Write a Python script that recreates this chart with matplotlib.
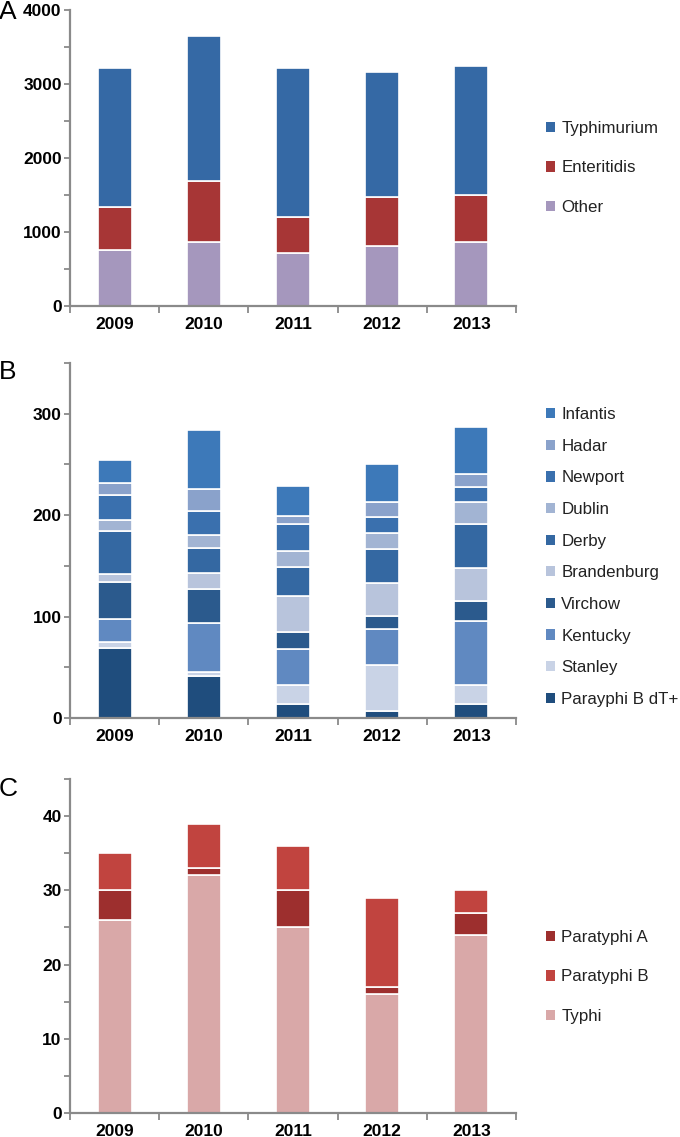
import numpy as np
import matplotlib
matplotlib.use('Agg')
import matplotlib.pyplot as plt
from matplotlib.patches import Patch
from matplotlib.ticker import MultipleLocator

plt.rcParams['font.family'] = ['Liberation Sans', 'DejaVu Sans']

years = ['2009', '2010', '2011', '2012', '2013']

# Panel A (stack order bottom -> top)
a_series = ['Other', 'Enteritidis', 'Typhimurium']
a_other = [760, 870, 720, 810, 870]
a_enteritidis = [580, 820, 480, 660, 630]
a_typhimurium = [1870, 1960, 2020, 1690, 1740]
a_colors = ['#a597bd', '#a73636', '#3569a5']

# Panel B (stack order bottom -> top)
b_series = ['Parayphi B dT+', 'Stanley', 'Kentucky', 'Virchow', 'Brandenburg',
            'Derby', 'Dublin', 'Newport', 'Hadar', 'Infantis']
b_parab = [69, 41, 14, 7, 14]
b_stanley = [6, 4, 19, 45, 19]
b_kentucky = [23, 49, 35, 36, 63]
b_virchow = [36, 33, 17, 13, 19]
b_brandenburg = [8, 16, 35, 32, 33]
b_derby = [42, 25, 29, 34, 43]
b_dublin = [11, 12, 16, 15, 22]
b_newport = [25, 24, 26, 16, 15]
b_hadar = [12, 22, 8, 15, 13]
b_infantis = [22, 58, 30, 37, 46]
b_colors = ['#1f4d7d', '#c9d3e6', '#6089c1', '#2b5a8d', '#b8c4dc',
            '#3468a2', '#a2b4d3', '#3a70ae', '#8aa2cb', '#3d79b9']

# Panel C (stack order bottom -> top)
c_series = ['Typhi', 'Paratyphi A', 'Paratyphi B']
c_typhi = [26, 32, 25, 16, 24]
c_paraa = [4, 1, 5, 1, 3]
c_parab = [5, 6, 6, 12, 3]
c_colors = ['#d9a8a8', '#9d2f2e', '#c1443f']

W, H = 680, 1137
fig = plt.figure(figsize=(W / 100, H / 100), dpi=100)


def px_axes(left, right, top, bottom):
    return fig.add_axes([left / W, 1 - bottom / H, (right - left) / W, (bottom - top) / H])


def style_axis(ax, ymax, major, minor):
    x = np.arange(len(years))
    ax.set_xlim(-0.5, len(years) - 0.5)
    ax.set_ylim(0, ymax)
    ax.spines[['top', 'right']].set_visible(False)
    for s in ['left', 'bottom']:
        ax.spines[s].set_color('#8a8a8a')
        ax.spines[s].set_linewidth(1.6)
    ax.yaxis.set_major_locator(MultipleLocator(major))
    ax.yaxis.set_minor_locator(MultipleLocator(minor))
    ax.tick_params(axis='y', which='both', length=4, width=1.3, color='#8a8a8a',
                   pad=2, labelsize=12.5)
    ax.set_xticks(np.arange(-0.5, len(years)), minor=False)
    ax.set_xticklabels([])
    ax.set_xticks(x, minor=True)
    ax.set_xticklabels(years, minor=True)
    ax.tick_params(axis='x', which='major', length=5, width=1.3, color='#8a8a8a')
    ax.tick_params(axis='x', which='minor', length=0, pad=8, labelsize=12.5)
    for lab in ax.get_xticklabels(minor=True) + ax.get_yticklabels():
        lab.set_fontweight('bold')


def stacked(ax, layers, colors):
    x = np.arange(len(years))
    bottom = np.zeros(len(years))
    for vals, col in zip(layers, colors):
        ax.bar(x, vals, 0.38, bottom=bottom, color=col, edgecolor='white', linewidth=1.2)
        bottom += np.array(vals)


def legend(ax, names, colors, order, y_center, spacing):
    handles = [Patch(facecolor=colors[i], edgecolor='none', label=names[i]) for i in order]
    ax.legend(handles=handles, loc='center left',
              bbox_to_anchor=(546 / W, 1 - y_center / H), bbox_transform=fig.transFigure,
              frameon=False, fontsize=12.2, handlelength=0.55, handleheight=0.55,
              handletextpad=0.35, borderpad=0, borderaxespad=0,
              labelspacing=spacing, labelcolor='#222222')


# Panel A
axA = px_axes(70, 516, 10, 306)
stacked(axA, [a_other, a_enteritidis, a_typhimurium], a_colors)
style_axis(axA, 4000, 1000, 500)
legend(axA, a_series, a_colors, [2, 1, 0], 168, 1.45)
fig.text(-0.002, 1 - 12 / H, 'A', fontsize=19, va='center', ha='left')

# Panel B
axB = px_axes(70, 516, 363, 718)
stacked(axB, [b_parab, b_stanley, b_kentucky, b_virchow, b_brandenburg,
              b_derby, b_dublin, b_newport, b_hadar, b_infantis], b_colors)
style_axis(axB, 350, 100, 50)
legend(axB, b_series, b_colors, list(range(9, -1, -1)), 557, 0.98)
fig.text(-0.002, 1 - 372 / H, 'B', fontsize=19, va='center', ha='left')

# Panel C
axC = px_axes(70, 516, 779, 1113)
stacked(axC, [c_typhi, c_paraa, c_parab], c_colors)
style_axis(axC, 45, 10, 5)
legend(axC, c_series, c_colors, [1, 2, 0], 977, 1.45)
fig.text(-0.002, 1 - 789 / H, 'C', fontsize=19, va='center', ha='left')

fig.savefig('out.png', dpi=100, facecolor='white')
